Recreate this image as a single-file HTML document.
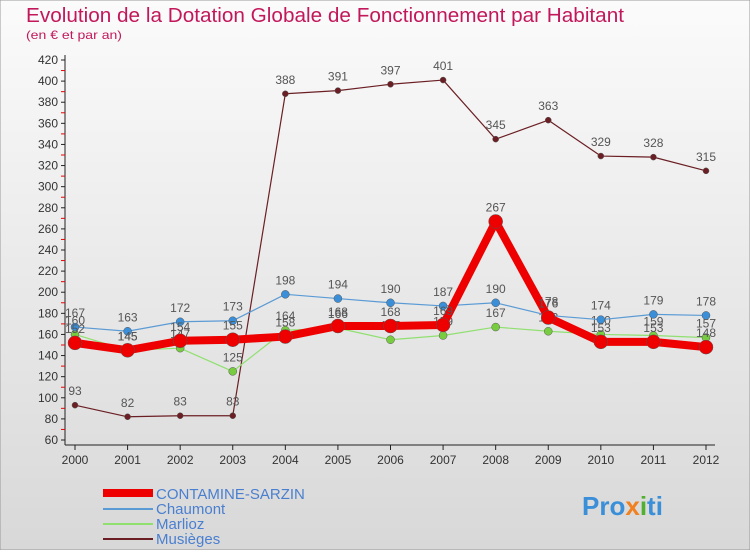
<!DOCTYPE html>
<html><head><meta charset="utf-8"><style>
body{margin:0;width:750px;height:550px;overflow:hidden;font-family:"Liberation Sans",sans-serif}
</style></head><body>
<svg width="750" height="550" xmlns="http://www.w3.org/2000/svg">
<defs><linearGradient id="bg" x1="0" y1="0" x2="0" y2="1"><stop offset="0" stop-color="#fbfbfb"/><stop offset="1" stop-color="#d8d8d8"/></linearGradient></defs>
<rect x="0" y="0" width="750" height="550" fill="url(#bg)" stroke="#999"/>
<text x="26" y="22" font-size="20" fill="#c2185b" textLength="598" lengthAdjust="spacingAndGlyphs">Evolution de la Dotation Globale de Fonctionnement par Habitant</text>
<text x="26" y="39" font-size="12" fill="#c2185b" textLength="96" lengthAdjust="spacingAndGlyphs">(en € et par an)</text>
<g id="axes"></g><g id="series"></g>
<g>
<line x1="103" y1="493" x2="153" y2="493" stroke="#e00" stroke-width="8"/><text x="156" y="499" font-size="15" fill="#4a7fd0">CONTAMINE-SARZIN</text>
<line x1="103" y1="509" x2="153" y2="509" stroke="#5b9bd5" stroke-width="2"/><text x="156" y="514" font-size="15" fill="#4a7fd0">Chaumont</text>
<line x1="103" y1="524" x2="153" y2="524" stroke="#90e070" stroke-width="2"/><text x="156" y="529" font-size="15" fill="#4a7fd0">Marlioz</text>
<line x1="103" y1="539" x2="153" y2="539" stroke="#6b1f24" stroke-width="2"/><text x="156" y="544" font-size="15" fill="#4a7fd0">Musièges</text>
</g>
<text x="582" y="515" font-size="26" font-weight="bold" fill="#3a8fd8">Pro<tspan fill="#f08020">x</tspan><tspan fill="#50b030">i</tspan>ti</text>
</svg>
<script>
const years=[2000,2001,2002,2003,2004,2005,2006,2007,2008,2009,2010,2011,2012];
const contamine=[152,145,154,155,158,168,168,169,267,176,153,153,148];
const chaumont=[167,163,172,173,198,194,190,187,190,178,174,179,178];
const marlioz=[160,145,147,125,164,166,155,159,167,163,160,159,157];
const musieges=[93,82,83,83,388,391,397,401,345,363,329,328,315];
const yTicks=[60,80,100,120,140,160,180,200,220,240,260,280,300,320,340,360,380,400,420];
const NS="http://www.w3.org/2000/svg";
const X=i=>75+i*(706-75)/(years.length-1);
const Y=v=>440-(v-60)*380/360;
function mk(t,a,p){const e=document.createElementNS(NS,t);for(const k in a)e.setAttribute(k,a[k]);p.appendChild(e);return e;}
const ax=document.getElementById('axes');
const yAxis=mk('line',{x1:65,y1:55,x2:65,y2:445,stroke:'#222'},ax);


const xAxis=mk('line',{x1:65,y1:445,x2:715,y2:445,stroke:'#222'},ax);


yTicks.forEach((t,i)=>{
 mk('line',{x1:61,y1:Y(t),x2:65,y2:Y(t),stroke:'#222'},ax);
 if(i<yTicks.length-1)mk('line',{x1:61,y1:Y(t+10),x2:65,y2:Y(t+10),stroke:'#e00'},ax);
 const tx=mk('text',{x:58,y:Y(t)+4,'font-size':12,'text-anchor':'end',fill:'#333'},ax);
 tx.textContent=t;
 
 
});
years.forEach((y,i)=>{
 mk('line',{x1:X(i),y1:445,x2:X(i),y2:450,stroke:'#222'},ax);
 const tx=mk('text',{x:X(i),y:464,'font-size':12,'text-anchor':'middle',fill:'#333'},ax);
 tx.textContent=y;
 
 
});
const sg=document.getElementById('series');
function draw(vals,col,w,r,dot,name){
 const g=mk('g',{},sg);
 
 
 mk('polyline',{points:vals.map((v,i)=>X(i)+','+Y(v)).join(' '),fill:'none',stroke:col,'stroke-width':w,'stroke-linejoin':'round'},g);
 vals.forEach((v,i)=>{
  const c=mk('circle',{cx:X(i),cy:Y(v),r:r,fill:dot,stroke:'#555','stroke-width':0.5},g);
  
  
  const t=mk('text',{x:X(i),y:Y(v)-10,'font-size':12,'text-anchor':'middle',fill:'#555'},g);
  t.textContent=v;
  
  
 });
}
draw(musieges,'#6b1f24',1.2,3,'#6b1f24','musieges-series');
draw(marlioz,'#90e070',1.2,4,'#78cc40','marlioz-series');
draw(chaumont,'#5b9bd5',1.2,4,'#3a8fd8','chaumont-series');
draw(contamine,'#e00',8,7,'#e00','contamine-series');
</script>
</body></html>
